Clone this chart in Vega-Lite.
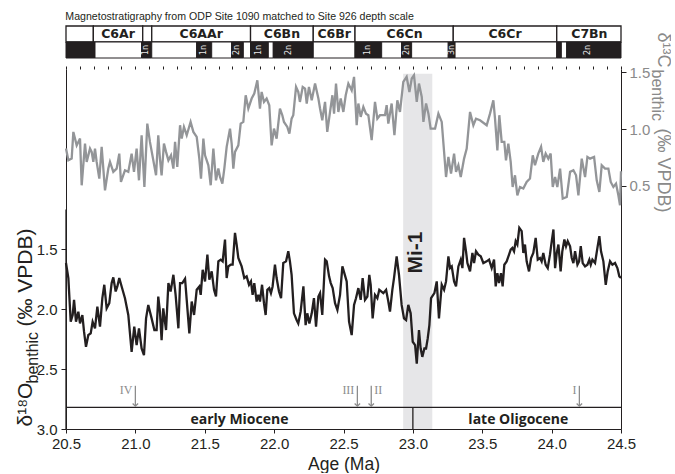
{
  "$schema": "https://vega.github.io/schema/vega-lite/v6.json",
  "padding": {"left": 14, "top": 11, "right": 0, "bottom": 0},
  "background": "white",
  "config": {
    "view": {"stroke": null},
    "axis": {"grid": false, "labelFont": "Liberation Sans", "titleFont": "Liberation Sans", "labelColor": "#231f20", "tickColor": "#231f20", "domainColor": "#231f20", "titleColor": "#231f20", "titleFontWeight": "normal"}
  },
  "datasets": {
    "c13": [
      {"age":20.5,"d13C":0.83},{"age":20.517,"d13C":0.726},{"age":20.541,"d13C":0.741},{"age":20.553,"d13C":0.976},{"age":20.577,"d13C":0.858},{"age":20.589,"d13C":0.888},{"age":20.601,"d13C":0.917},{"age":20.613,"d13C":0.506},{"age":20.637,"d13C":0.873},{"age":20.649,"d13C":0.712},{"age":20.673,"d13C":0.829},{"age":20.685,"d13C":0.8},{"age":20.697,"d13C":0.712},{"age":20.709,"d13C":0.829},{"age":20.721,"d13C":0.712},{"age":20.74,"d13C":0.565},{"age":20.757,"d13C":0.844},{"age":20.781,"d13C":0.462},{"age":20.805,"d13C":0.653},{"age":20.817,"d13C":0.712},{"age":20.841,"d13C":0.624},{"age":20.865,"d13C":0.653},{"age":20.884,"d13C":0.785},{"age":20.896,"d13C":0.535},{"age":20.925,"d13C":0.638},{"age":20.949,"d13C":0.624},{"age":20.973,"d13C":0.785},{"age":20.99,"d13C":0.624},{"age":21.009,"d13C":0.829},{"age":21.026,"d13C":0.55},{"age":21.045,"d13C":0.947},{"age":21.065,"d13C":0.491},{"age":21.086,"d13C":1.049},{"age":21.105,"d13C":0.888},{"age":21.149,"d13C":0.594},{"age":21.165,"d13C":0.947},{"age":21.177,"d13C":0.741},{"age":21.189,"d13C":0.594},{"age":21.206,"d13C":0.873},{"age":21.221,"d13C":0.8},{"age":21.238,"d13C":0.726},{"age":21.257,"d13C":0.77},{"age":21.274,"d13C":0.653},{"age":21.286,"d13C":0.888},{"age":21.302,"d13C":0.668},{"age":21.322,"d13C":1.035},{"age":21.334,"d13C":0.917},{"age":21.35,"d13C":1.02},{"age":21.37,"d13C":0.947},{"age":21.398,"d13C":1.064},{"age":21.418,"d13C":0.976},{"age":21.442,"d13C":0.932},{"age":21.461,"d13C":0.741},{"age":21.473,"d13C":0.565},{"age":21.49,"d13C":0.917},{"age":21.502,"d13C":0.77},{"age":21.526,"d13C":0.682},{"age":21.543,"d13C":0.506},{"age":21.562,"d13C":0.829},{"age":21.581,"d13C":0.55},{"age":21.598,"d13C":0.653},{"age":21.61,"d13C":0.579},{"age":21.627,"d13C":0.521},{"age":21.641,"d13C":0.653},{"age":21.658,"d13C":0.844},{"age":21.682,"d13C":1.005},{"age":21.694,"d13C":0.873},{"age":21.706,"d13C":0.653},{"age":21.718,"d13C":0.8},{"age":21.742,"d13C":0.858},{"age":21.759,"d13C":1.049},{"age":21.778,"d13C":1.064},{"age":21.795,"d13C":1.299},{"age":21.814,"d13C":1.182},{"age":21.838,"d13C":1.27},{"age":21.857,"d13C":1.314},{"age":21.879,"d13C":1.431},{"age":21.898,"d13C":1.182},{"age":21.91,"d13C":1.328},{"age":21.927,"d13C":1.24},{"age":21.946,"d13C":1.27},{"age":21.965,"d13C":1.211},{"age":21.982,"d13C":0.858},{"age":21.999,"d13C":1.005},{"age":22.018,"d13C":0.917},{"age":22.042,"d13C":1.182},{"age":22.059,"d13C":1.123},{"age":22.071,"d13C":1.064},{"age":22.095,"d13C":1.02},{"age":22.11,"d13C":0.961},{"age":22.126,"d13C":1.093},{"age":22.138,"d13C":1.123},{"age":22.158,"d13C":1.372},{"age":22.174,"d13C":1.328},{"age":22.186,"d13C":1.24},{"age":22.206,"d13C":1.372},{"age":22.223,"d13C":1.358},{"age":22.235,"d13C":1.226},{"age":22.251,"d13C":1.372},{"age":22.271,"d13C":1.255},{"age":22.295,"d13C":1.402},{"age":22.319,"d13C":1.27},{"age":22.331,"d13C":1.182},{"age":22.347,"d13C":1.079},{"age":22.367,"d13C":1.24},{"age":22.383,"d13C":0.976},{"age":22.403,"d13C":1.152},{"age":22.42,"d13C":1.299},{"age":22.432,"d13C":1.137},{"age":22.446,"d13C":1.402},{"age":22.463,"d13C":1.152},{"age":22.48,"d13C":1.27},{"age":22.499,"d13C":1.152},{"age":22.516,"d13C":1.299},{"age":22.535,"d13C":1.402},
      {"age":22.559,"d13C":1.343},{"age":22.576,"d13C":1.461},{"age":22.595,"d13C":1.035},{"age":22.607,"d13C":1.226},{"age":22.624,"d13C":1.108},{"age":22.643,"d13C":1.196},{"age":22.662,"d13C":1.137},{"age":22.679,"d13C":1.123},{"age":22.703,"d13C":0.903},{"age":22.727,"d13C":1.24},{"age":22.744,"d13C":1.093},{"age":22.763,"d13C":1.123},{"age":22.799,"d13C":1.123},{"age":22.811,"d13C":1.211},{"age":22.823,"d13C":1.049},{"age":22.847,"d13C":1.226},{"age":22.867,"d13C":0.947},{"age":22.888,"d13C":1.255},{"age":22.907,"d13C":1.152},{"age":22.931,"d13C":1.416},{"age":22.955,"d13C":1.461},{"age":22.975,"d13C":1.328},{"age":22.992,"d13C":1.446},{"age":23.008,"d13C":1.475},{"age":23.028,"d13C":1.24},{"age":23.044,"d13C":1.402},{"age":23.064,"d13C":1.284},{"age":23.076,"d13C":1.064},{"age":23.095,"d13C":1.226},{"age":23.112,"d13C":1.137},{"age":23.128,"d13C":1.005},{"age":23.16,"d13C":1.005},{"age":23.184,"d13C":1.137},{"age":23.208,"d13C":1.064},{"age":23.225,"d13C":0.8},{"age":23.239,"d13C":0.579},{"age":23.256,"d13C":0.756},{"age":23.275,"d13C":0.609},{"age":23.297,"d13C":0.785},{"age":23.311,"d13C":0.624},{"age":23.328,"d13C":0.682},{"age":23.345,"d13C":0.579},{"age":23.369,"d13C":0.741},{"age":23.388,"d13C":0.829},{"age":23.412,"d13C":1.152},{"age":23.436,"d13C":1.035},{"age":23.455,"d13C":1.093},{"age":23.484,"d13C":1.079},{"age":23.532,"d13C":1.035},{"age":23.556,"d13C":1.137},{"age":23.58,"d13C":1.255},{"age":23.592,"d13C":1.093},{"age":23.609,"d13C":0.814},{"age":23.623,"d13C":1.123},{"age":23.64,"d13C":0.888},{"age":23.659,"d13C":0.888},{"age":23.671,"d13C":0.726},{"age":23.688,"d13C":0.873},{"age":23.705,"d13C":0.712},{"age":23.719,"d13C":0.491},{"age":23.736,"d13C":0.594},{"age":23.753,"d13C":0.418},{"age":23.772,"d13C":0.491},{"age":23.796,"d13C":0.477},{"age":23.82,"d13C":0.535},{"age":23.844,"d13C":0.565},{"age":23.864,"d13C":0.77},{"age":23.88,"d13C":0.682},{"age":23.904,"d13C":0.785},{"age":23.924,"d13C":0.844},{"age":23.94,"d13C":0.712},{"age":23.957,"d13C":0.785},{"age":23.976,"d13C":0.741},{"age":23.993,"d13C":0.785},{"age":24.008,"d13C":0.491},{"age":24.025,"d13C":0.579},{"age":24.041,"d13C":0.491},{"age":24.061,"d13C":0.653},{"age":24.08,"d13C":0.389},{"age":24.109,"d13C":0.403},{"age":24.133,"d13C":0.624},{"age":24.157,"d13C":0.638},{"age":24.176,"d13C":0.594},{"age":24.193,"d13C":0.418},{"age":24.217,"d13C":0.741},{"age":24.241,"d13C":0.579},{"age":24.258,"d13C":0.756},{"age":24.277,"d13C":0.741},{"age":24.306,"d13C":0.756},{"age":24.325,"d13C":0.55},{"age":24.344,"d13C":0.447},{"age":24.361,"d13C":0.682},{"age":24.385,"d13C":0.653},{"age":24.409,"d13C":0.653},{"age":24.426,"d13C":0.535},{"age":24.445,"d13C":0.491},{"age":24.464,"d13C":0.521},{"age":24.481,"d13C":0.418},{"age":24.493,"d13C":0.33},{"age":24.5,"d13C":0.63}
    ],
    "o18": [
      {"age":20.5,"d18O":1.617},{"age":20.517,"d18O":1.742},{"age":20.534,"d18O":2.106},{"age":20.548,"d18O":2.05},{"age":20.558,"d18O":1.924},{"age":20.572,"d18O":2.106},{"age":20.589,"d18O":2.022},{"age":20.601,"d18O":2.12},{"age":20.618,"d18O":2.05},{"age":20.63,"d18O":2.189},{"age":20.644,"d18O":2.315},{"age":20.661,"d18O":2.217},{"age":20.678,"d18O":2.203},{"age":20.692,"d18O":2.106},{"age":20.709,"d18O":2.161},{"age":20.726,"d18O":1.98},{"age":20.745,"d18O":2.147},{"age":20.762,"d18O":1.91},{"age":20.776,"d18O":1.798},{"age":20.793,"d18O":1.994},{"age":20.812,"d18O":1.952},{"age":20.829,"d18O":1.784},{"age":20.841,"d18O":1.737},{"age":20.858,"d18O":1.854},{"age":20.87,"d18O":1.812},{"age":20.884,"d18O":1.742},{"age":20.901,"d18O":1.812},{"age":20.925,"d18O":1.91},{"age":20.949,"d18O":2.05},{"age":20.973,"d18O":2.357},{"age":20.992,"d18O":2.147},{"age":21.009,"d18O":2.301},{"age":21.026,"d18O":2.161},{"age":21.045,"d18O":2.329},{"age":21.062,"d18O":2.385},{"age":21.077,"d18O":2.078},{"age":21.093,"d18O":1.966},{"age":21.117,"d18O":2.078},{"age":21.137,"d18O":2.175},{"age":21.153,"d18O":2.175},{"age":21.165,"d18O":1.896},{"age":21.177,"d18O":2.022},{"age":21.189,"d18O":2.259},{"age":21.201,"d18O":1.994},{"age":21.221,"d18O":2.175},{"age":21.238,"d18O":1.784},{"age":21.254,"d18O":1.854},{"age":21.274,"d18O":1.715},{"age":21.29,"d18O":1.882},{"age":21.31,"d18O":2.161},{"age":21.322,"d18O":1.784},{"age":21.338,"d18O":1.784},{"age":21.358,"d18O":1.748},{"age":21.37,"d18O":1.924},{"age":21.389,"d18O":2.203},{"age":21.406,"d18O":1.938},{"age":21.423,"d18O":2.05},{"age":21.442,"d18O":1.84},{"age":21.461,"d18O":1.812},{"age":21.471,"d18O":1.882},{"age":21.485,"d18O":1.673},{"age":21.502,"d18O":1.77},{"age":21.519,"d18O":1.547},{"age":21.533,"d18O":1.756},{"age":21.55,"d18O":1.687},{"age":21.567,"d18O":1.84},{"age":21.581,"d18O":1.896},{"age":21.598,"d18O":1.603},{"age":21.615,"d18O":1.589},{"age":21.629,"d18O":1.603},{"age":21.646,"d18O":1.421},{"age":21.658,"d18O":1.742},{"age":21.67,"d18O":1.645},{"age":21.687,"d18O":1.631},{"age":21.701,"d18O":1.631},{"age":21.718,"d18O":1.365},{"age":21.73,"d18O":1.463},{"age":21.742,"d18O":1.575},{"age":21.766,"d18O":1.645},{"age":21.785,"d18O":1.742},{"age":21.802,"d18O":1.728},{"age":21.819,"d18O":1.798},{"age":21.833,"d18O":1.77},{"age":21.845,"d18O":1.882},{"age":21.857,"d18O":1.784},{"age":21.874,"d18O":1.938},{"age":21.886,"d18O":1.882},{"age":21.898,"d18O":1.938},{"age":21.913,"d18O":1.798},{"age":21.927,"d18O":1.952},{"age":21.939,"d18O":2.05},{"age":21.951,"d18O":1.84},{"age":21.965,"d18O":1.826},{"age":21.977,"d18O":1.868},{"age":21.989,"d18O":1.812},{"age":22.006,"d18O":1.631},{"age":22.018,"d18O":1.742},{"age":22.035,"d18O":1.854},{"age":22.05,"d18O":1.91},{"age":22.066,"d18O":1.617},{"age":22.086,"d18O":1.603},{"age":22.102,"d18O":1.519},{"age":22.114,"d18O":1.603},{"age":22.126,"d18O":1.715},{"age":22.143,"d18O":2.036},{"age":22.162,"d18O":2.092},{"age":22.174,"d18O":2.12},{"age":22.191,"d18O":2.022},{"age":22.211,"d18O":1.812},{"age":22.227,"d18O":2.134},{"age":22.239,"d18O":2.036},{"age":22.254,"d18O":2.12},{"age":22.271,"d18O":2.036},{"age":22.287,"d18O":1.91},{"age":22.302,"d18O":2.147},{"age":22.319,"d18O":1.896},{"age":22.331,"d18O":1.868},{"age":22.347,"d18O":2.05},{"age":22.367,"d18O":1.589},{"age":22.379,"d18O":1.603},{"age":22.396,"d18O":1.728},{"age":22.408,"d18O":1.784},{"age":22.422,"d18O":1.826},{"age":22.439,"d18O":1.952},{"age":22.456,"d18O":2.008},{"age":22.475,"d18O":1.882},{"age":22.492,"d18O":1.645},{"age":22.506,"d18O":1.701},{"age":22.523,"d18O":1.77},{"age":22.54,"d18O":2.106},
      {"age":22.559,"d18O":2.217},{"age":22.576,"d18O":1.966},{"age":22.59,"d18O":1.91},{"age":22.607,"d18O":1.826},{"age":22.624,"d18O":1.924},{"age":22.638,"d18O":1.742},{"age":22.655,"d18O":1.924},{"age":22.672,"d18O":1.896},{"age":22.686,"d18O":1.715},{"age":22.696,"d18O":1.798},{"age":22.71,"d18O":2.078},{"age":22.727,"d18O":1.882},{"age":22.744,"d18O":1.91},{"age":22.758,"d18O":1.84},{"age":22.787,"d18O":1.868},{"age":22.807,"d18O":1.84},{"age":22.823,"d18O":1.938},{"age":22.835,"d18O":2.022},{"age":22.852,"d18O":1.84},{"age":22.864,"d18O":1.742},{"age":22.883,"d18O":1.561},{"age":22.9,"d18O":1.715},{"age":22.919,"d18O":1.966},{"age":22.936,"d18O":2.078},{"age":22.951,"d18O":2.092},{"age":22.967,"d18O":1.966},{"age":22.984,"d18O":2.036},{"age":22.999,"d18O":2.273},{"age":23.016,"d18O":2.301},{"age":23.028,"d18O":2.455},{"age":23.044,"d18O":2.175},{"age":23.056,"d18O":2.329},{"age":23.068,"d18O":2.399},{"age":23.083,"d18O":2.329},{"age":23.095,"d18O":2.329},{"age":23.107,"d18O":2.245},{"age":23.119,"d18O":2.134},{"age":23.131,"d18O":1.91},{"age":23.155,"d18O":1.868},{"age":23.172,"d18O":1.77},{"age":23.188,"d18O":2.078},{"age":23.208,"d18O":1.798},{"age":23.225,"d18O":1.84},{"age":23.239,"d18O":1.77},{"age":23.256,"d18O":1.561},{"age":23.268,"d18O":1.659},{"age":23.28,"d18O":1.645},{"age":23.297,"d18O":1.77},{"age":23.311,"d18O":1.812},{"age":23.328,"d18O":1.645},{"age":23.345,"d18O":1.589},{"age":23.357,"d18O":1.659},{"age":23.369,"d18O":1.407},{"age":23.383,"d18O":1.519},{"age":23.393,"d18O":1.617},{"age":23.412,"d18O":1.687},{"age":23.429,"d18O":1.533},{"age":23.441,"d18O":1.617},{"age":23.455,"d18O":1.519},{"age":23.472,"d18O":1.547},{"age":23.489,"d18O":1.561},{"age":23.508,"d18O":1.617},{"age":23.532,"d18O":1.603},{"age":23.549,"d18O":1.589},{"age":23.568,"d18O":1.659},{"age":23.585,"d18O":1.589},{"age":23.597,"d18O":1.812},{"age":23.609,"d18O":1.701},{"age":23.621,"d18O":1.784},{"age":23.635,"d18O":1.701},{"age":23.647,"d18O":1.812},{"age":23.659,"d18O":1.631},{"age":23.676,"d18O":1.603},{"age":23.693,"d18O":1.547},{"age":23.705,"d18O":1.505},{"age":23.717,"d18O":1.491},{"age":23.729,"d18O":1.519},{"age":23.741,"d18O":1.435},{"age":23.753,"d18O":1.463},{"age":23.767,"d18O":1.323},{"age":23.784,"d18O":1.351},{"age":23.796,"d18O":1.533},{"age":23.808,"d18O":1.463},{"age":23.82,"d18O":1.603},{"age":23.837,"d18O":1.687},{"age":23.852,"d18O":1.575},{"age":23.868,"d18O":1.533},{"age":23.885,"d18O":1.407},{"age":23.9,"d18O":1.589},{"age":23.916,"d18O":1.575},{"age":23.928,"d18O":1.603},{"age":23.94,"d18O":1.533},{"age":23.957,"d18O":1.631},{"age":23.972,"d18O":1.659},{"age":23.988,"d18O":1.547},{"age":24.001,"d18O":1.435},{"age":24.013,"d18O":1.337},{"age":24.025,"d18O":1.659},{"age":24.037,"d18O":1.533},{"age":24.049,"d18O":1.463},{"age":24.065,"d18O":1.687},{"age":24.077,"d18O":1.519},{"age":24.092,"d18O":1.421},{"age":24.104,"d18O":1.477},{"age":24.116,"d18O":1.435},{"age":24.133,"d18O":1.477},{"age":24.145,"d18O":1.575},{"age":24.157,"d18O":1.617},{"age":24.169,"d18O":1.519},{"age":24.186,"d18O":1.631},{"age":24.198,"d18O":1.603},{"age":24.21,"d18O":1.477},{"age":24.224,"d18O":1.617},{"age":24.241,"d18O":1.645},{"age":24.258,"d18O":1.631},{"age":24.272,"d18O":1.589},{"age":24.282,"d18O":1.631},{"age":24.294,"d18O":1.589},{"age":24.313,"d18O":1.617},{"age":24.33,"d18O":1.491},{"age":24.344,"d18O":1.393},{"age":24.356,"d18O":1.519},{"age":24.373,"d18O":1.603},{"age":24.39,"d18O":1.798},{"age":24.404,"d18O":1.687},{"age":24.421,"d18O":1.603},{"age":24.438,"d18O":1.631},{"age":24.457,"d18O":1.617},{"age":24.474,"d18O":1.659},{"age":24.488,"d18O":1.728},{"age":24.5,"d18O":1.742}
    ],
    "band": [{"start": 22.93, "end": 23.14, "top": 0.04, "bottom": 3.0}],
    "frame": [
      {"start": 20.5, "end": 24.5, "top": 2.82, "bottom": 2.82},
      {"start": 23.0, "end": 23.0, "top": 2.82, "bottom": 3.0},
      {"start": 20.5, "end": 20.5, "top": 1.17, "bottom": 3.0}
    ],
    "epochs": [
      {"age": 21.75, "val": 2.925, "label": "early Miocene"},
      {"age": 23.76, "val": 2.925, "label": "late Oligocene"}
    ],
    "arrows": [
      {"age": 21.0, "top": 2.64, "tip": 2.81, "lab": 2.675, "label": "IV", "side": "left"},
      {"age": 22.6, "top": 2.64, "tip": 2.81, "lab": 2.675, "label": "III", "side": "left"},
      {"age": 22.7, "top": 2.64, "tip": 2.81, "lab": 2.675, "label": "II", "side": "right"},
      {"age": 24.2, "top": 2.64, "tip": 2.81, "lab": 2.675, "label": "I", "side": "left"}
    ],
    "events": [{"age": 23.02, "val": 1.53, "label": "Mi-1"}],
    "chrons": [
      {"start": 20.5, "end": 20.697, "mid": 20.6, "row": "chron", "label": ""},
      {"start": 20.697, "end": 21.053, "mid": 20.875, "row": "chron", "label": "C6Ar"},
      {"start": 21.053, "end": 21.118, "mid": 21.085, "row": "chron", "label": ""},
      {"start": 21.118, "end": 21.83, "mid": 21.474, "row": "chron", "label": "C6AAr"},
      {"start": 21.83, "end": 22.282, "mid": 22.056, "row": "chron", "label": "C6Bn"},
      {"start": 22.282, "end": 22.583, "mid": 22.433, "row": "chron", "label": "C6Br"},
      {"start": 22.583, "end": 23.291, "mid": 22.94, "row": "chron", "label": "C6Cn"},
      {"start": 23.291, "end": 24.037, "mid": 23.664, "row": "chron", "label": "C6Cr"},
      {"start": 24.037, "end": 24.5, "mid": 24.272, "row": "chron", "label": "C7Bn"}
    ],
    "polarity": [
      {"start": 20.5, "end": 20.709, "mid": 20.6, "row": "polarity", "pol": "normal", "label": ""},
      {"start": 20.709, "end": 21.045, "mid": 20.88, "row": "polarity", "pol": "reversed", "label": ""},
      {"start": 21.045, "end": 21.118, "mid": 21.08, "row": "polarity", "pol": "normal", "label": "1n"},
      {"start": 21.118, "end": 21.442, "mid": 21.28, "row": "polarity", "pol": "reversed", "label": ""},
      {"start": 21.442, "end": 21.55, "mid": 21.496, "row": "polarity", "pol": "normal", "label": "1n"},
      {"start": 21.55, "end": 21.694, "mid": 21.62, "row": "polarity", "pol": "reversed", "label": ""},
      {"start": 21.694, "end": 21.778, "mid": 21.736, "row": "polarity", "pol": "normal", "label": "2n"},
      {"start": 21.778, "end": 21.83, "mid": 21.8, "row": "polarity", "pol": "reversed", "label": ""},
      {"start": 21.83, "end": 21.958, "mid": 21.89, "row": "polarity", "pol": "normal", "label": "1n"},
      {"start": 21.958, "end": 21.994, "mid": 21.976, "row": "polarity", "pol": "reversed", "label": ""},
      {"start": 21.994, "end": 22.282, "mid": 22.11, "row": "polarity", "pol": "normal", "label": "2n"},
      {"start": 22.282, "end": 22.583, "mid": 22.43, "row": "polarity", "pol": "reversed", "label": ""},
      {"start": 22.583, "end": 22.775, "mid": 22.68, "row": "polarity", "pol": "normal", "label": "1n"},
      {"start": 22.775, "end": 22.919, "mid": 22.85, "row": "polarity", "pol": "reversed", "label": ""},
      {"start": 22.919, "end": 22.991, "mid": 22.955, "row": "polarity", "pol": "normal", "label": "2n"},
      {"start": 22.991, "end": 23.255, "mid": 23.12, "row": "polarity", "pol": "reversed", "label": ""},
      {"start": 23.255, "end": 23.304, "mid": 23.28, "row": "polarity", "pol": "normal", "label": "3n"},
      {"start": 23.304, "end": 24.037, "mid": 23.67, "row": "polarity", "pol": "reversed", "label": ""},
      {"start": 24.037, "end": 24.07, "mid": 24.05, "row": "polarity", "pol": "normal", "label": ""},
      {"start": 24.07, "end": 24.109, "mid": 24.09, "row": "polarity", "pol": "reversed", "label": ""},
      {"start": 24.109, "end": 24.5, "mid": 24.26, "row": "polarity", "pol": "normal", "label": "2n"}
    ]
  },
  "vconcat": [
    {
      "width": 555,
      "height": 32,
      "title": {"text": "Magnetostratigraphy from ODP Site 1090 matched to Site 926 depth scale", "anchor": "start", "fontSize": 10.6, "font": "Liberation Sans", "fontWeight": "normal", "color": "#231f20", "offset": 3},
      "layer": [
        {
          "data": {"name": "chrons"},
          "mark": {"type": "rect", "fill": "white", "stroke": "#231f20", "strokeWidth": 1.3},
          "encoding": {
            "x": {"field": "start", "type": "quantitative", "scale": {"domain": [20.5, 24.5], "nice": false, "zero": false}, "axis": null},
            "x2": {"field": "end"},
            "y": {"field": "row", "type": "nominal", "scale": {"domain": ["chron", "polarity"], "paddingInner": 0, "paddingOuter": 0}, "axis": null}
          }
        },
        {
          "data": {"name": "polarity"},
          "mark": {"type": "rect", "stroke": "#231f20", "strokeWidth": 1},
          "encoding": {
            "x": {"field": "start", "type": "quantitative", "scale": {"domain": [20.5, 24.5], "nice": false, "zero": false}, "axis": null},
            "x2": {"field": "end"},
            "y": {"field": "row", "type": "nominal", "scale": {"domain": ["chron", "polarity"], "paddingInner": 0, "paddingOuter": 0}, "axis": null},
            "fill": {"field": "pol", "type": "nominal", "scale": {"domain": ["normal", "reversed"], "range": ["#231f20", "#ffffff"]}, "legend": null}
          }
        },
        {
          "data": {"name": "chrons"},
          "transform": [{"filter": "datum.label != ''"}],
          "mark": {"type": "text", "font": "DejaVu Sans", "fontWeight": "bold", "fontSize": 12.5, "color": "#231f20", "baseline": "middle", "align": "center"},
          "encoding": {
            "x": {"field": "mid", "type": "quantitative", "scale": {"domain": [20.5, 24.5], "nice": false, "zero": false}, "axis": null},
            "y": {"field": "row", "type": "nominal", "scale": {"domain": ["chron", "polarity"], "paddingInner": 0, "paddingOuter": 0}, "axis": null},
            "text": {"field": "label"}
          }
        },
        {
          "data": {"name": "polarity"},
          "transform": [{"filter": "datum.label != ''"}],
          "mark": {"type": "text", "font": "DejaVu Sans", "fontSize": 8, "angle": 270, "color": "#e8e8e8", "baseline": "middle", "align": "center"},
          "encoding": {
            "x": {"field": "mid", "type": "quantitative", "scale": {"domain": [20.5, 24.5], "nice": false, "zero": false}, "axis": null},
            "y": {"field": "row", "type": "nominal", "scale": {"domain": ["chron", "polarity"], "paddingInner": 0, "paddingOuter": 0}, "axis": null},
            "text": {"field": "label"}
          }
        }
      ]
    },
    {
      "width": 555,
      "height": 360,
      "layer": [
        {
          "data": {"name": "band"},
          "mark": {"type": "rect", "color": "#e6e6e8"},
          "encoding": {
            "x": {"field": "start", "type": "quantitative", "scale": {"domain": [20.5, 24.5], "nice": false, "zero": false}, "axis": null},
            "x2": {"field": "end"},
            "y": {"field": "top", "type": "quantitative", "scale": {"domain": [0, 3], "reverse": true, "nice": false, "zero": false},
                  "axis": {"orient": "left", "ticks": false, "labels": false, "domain": false, "title": "benthic", "titleFontSize": 16, "titleAngle": 270, "titleAlign": "left", "titleBaseline": "alphabetic", "titleX": -29, "titleY": 314}},
            "y2": {"field": "bottom"}
          }
        },
        {
          "data": {"name": "c13"},
          "mark": {"type": "line", "color": "#939598", "strokeWidth": 2.3},
          "encoding": {
            "x": {"field": "age", "type": "quantitative", "scale": {"domain": [20.5, 24.5], "nice": false, "zero": false}, "axis": null},
            "y": {"field": "d13C", "type": "quantitative", "scale": {"domain": [-1.64, 1.53], "nice": false, "zero": false},
                  "axis": {"orient": "right", "values": [0.5, 1.0, 1.5], "format": ".1f", "labelFontSize": 15, "labelColor": "#8a8a8a", "tickSize": 5, "labelPadding": 3, "title": "δ¹³C", "titleColor": "#8a8a8a", "titleFontSize": 18, "titleAngle": 90, "titleAlign": "left", "titleBaseline": "alphabetic", "titleX": 36, "titleY": -37}}
          }
        },
        {
          "data": {"name": "o18"},
          "mark": {"type": "line", "color": "#231f20", "strokeWidth": 2.3},
          "encoding": {
            "x": {"field": "age", "type": "quantitative", "scale": {"domain": [20.5, 24.5], "nice": false, "zero": false},
                  "axis": {"values": [20.5, 21.0, 21.5, 22.0, 22.5, 23.0, 23.5, 24.0, 24.5], "format": ".1f", "labelFlush": false, "labelFontSize": 15, "tickSize": 4, "labelPadding": 3, "title": "Age (Ma)", "titleFontSize": 17.5, "titlePadding": 4}},
            "y": {"field": "d18O", "type": "quantitative", "scale": {"domain": [0, 3], "reverse": true, "nice": false, "zero": false},
                  "axis": {"orient": "left", "values": [1.5, 2.0, 2.5, 3.0], "format": ".1f", "labelFontSize": 15, "tickSize": 5, "labelPadding": 4, "title": "δ¹⁸O", "titleFontSize": 21, "titleAngle": 270, "titleAlign": "left", "titleBaseline": "alphabetic", "titleX": -35, "titleY": 357}}
          }
        },
        {
          "data": {"name": "frame"},
          "mark": {"type": "rule", "color": "#231f20", "strokeWidth": 1.3},
          "encoding": {
            "x": {"field": "start", "type": "quantitative", "scale": {"domain": [20.5, 24.5], "nice": false, "zero": false},
                  "axis": {"values": [20.5,20.6,20.7,20.8,20.9,21,21.1,21.2,21.3,21.4,21.5,21.6,21.7,21.8,21.9,22,22.1,22.2,22.3,22.4,22.5,22.6,22.7,22.8,22.9,23,23.1,23.2,23.3,23.4,23.5,23.6,23.7,23.8,23.9,24,24.1,24.2,24.3,24.4,24.5], "labels": false, "domain": false, "tickSize": 3, "title": null}},
            "x2": {"field": "end"},
            "y": {"field": "top", "type": "quantitative", "scale": {"domain": [0, 3], "reverse": true, "nice": false, "zero": false},
                  "axis": {"orient": "left", "ticks": false, "labels": false, "domain": false, "title": "(‰ VPDB)", "titleFontSize": 21, "titleAngle": 270, "titleAlign": "left", "titleBaseline": "alphabetic", "titleX": -35, "titleY": 257}},
            "y2": {"field": "bottom"}
          }
        },
        {
          "data": {"name": "epochs"},
          "mark": {"type": "text", "font": "Open Sans", "fontWeight": "bold", "fontSize": 14, "color": "#231f20", "baseline": "middle", "align": "center"},
          "encoding": {
            "x": {"field": "age", "type": "quantitative", "scale": {"domain": [20.5, 24.5], "nice": false, "zero": false}, "axis": null},
            "y": {"field": "val", "type": "quantitative", "scale": {"domain": [0, 3], "reverse": true, "nice": false, "zero": false}, "axis": null},
            "text": {"field": "label"}
          }
        },
        {
          "data": {"name": "arrows"},
          "mark": {"type": "rule", "color": "#8c8c8c", "strokeWidth": 1.3},
          "encoding": {
            "x": {"field": "age", "type": "quantitative", "scale": {"domain": [20.5, 24.5], "nice": false, "zero": false}, "axis": null},
            "y": {"field": "top", "type": "quantitative", "scale": {"domain": [0, 3], "reverse": true, "nice": false, "zero": false},
                  "axis": {"orient": "right", "ticks": false, "labels": false, "domain": false, "title": "benthic", "titleColor": "#8a8a8a", "titleFontSize": 16, "titleAngle": 90, "titleAlign": "left", "titleBaseline": "alphabetic", "titleX": 30, "titleY": 0}},
            "y2": {"field": "tip"}
          }
        },
        {
          "data": {"name": "arrows"},
          "mark": {"type": "point", "shape": "M-1,-1L0,0L1,-1", "filled": false, "color": "#8c8c8c", "strokeWidth": 1.3, "size": 30, "opacity": 1},
          "encoding": {
            "x": {"field": "age", "type": "quantitative", "scale": {"domain": [20.5, 24.5], "nice": false, "zero": false}, "axis": null},
            "y": {"field": "tip", "type": "quantitative", "scale": {"domain": [0, 3], "reverse": true, "nice": false, "zero": false}, "axis": null}
          }
        },
        {
          "data": {"name": "arrows"},
          "transform": [{"filter": "datum.side == 'left'"}],
          "mark": {"type": "text", "font": "Liberation Serif", "fontSize": 12, "color": "#8c8c8c", "align": "right", "baseline": "middle", "dx": -3},
          "encoding": {
            "x": {"field": "age", "type": "quantitative", "scale": {"domain": [20.5, 24.5], "nice": false, "zero": false}, "axis": null},
            "y": {"field": "lab", "type": "quantitative", "scale": {"domain": [0, 3], "reverse": true, "nice": false, "zero": false}, "axis": null},
            "text": {"field": "label"}
          }
        },
        {
          "data": {"name": "arrows"},
          "transform": [{"filter": "datum.side == 'right'"}],
          "mark": {"type": "text", "font": "Liberation Serif", "fontSize": 12, "color": "#8c8c8c", "align": "left", "baseline": "middle", "dx": 3},
          "encoding": {
            "x": {"field": "age", "type": "quantitative", "scale": {"domain": [20.5, 24.5], "nice": false, "zero": false}, "axis": null},
            "y": {"field": "lab", "type": "quantitative", "scale": {"domain": [0, 3], "reverse": true, "nice": false, "zero": false}, "axis": null},
            "text": {"field": "label"}
          }
        },
        {
          "data": {"name": "events"},
          "mark": {"type": "text", "font": "Liberation Sans", "fontWeight": "bold", "fontSize": 21, "angle": 270, "color": "#231f20", "align": "center", "baseline": "middle"},
          "encoding": {
            "x": {"field": "age", "type": "quantitative", "scale": {"domain": [20.5, 24.5], "nice": false, "zero": false}, "axis": null},
            "y": {"field": "val", "type": "quantitative", "scale": {"domain": [0, 3], "reverse": true, "nice": false, "zero": false},
                  "axis": {"orient": "right", "ticks": false, "labels": false, "domain": false, "title": "(‰ VPDB)", "titleColor": "#8a8a8a", "titleFontSize": 18, "titleAngle": 90, "titleAlign": "left", "titleBaseline": "alphabetic", "titleX": 36, "titleY": 59}},
            "text": {"field": "label"}
          }
        }
      ],
      "resolve": {"scale": {"y": "independent"}, "axis": {"x": "independent", "y": "independent"}}
    }
  ],
  "spacing": 11,
  "bounds": "flush"
}
